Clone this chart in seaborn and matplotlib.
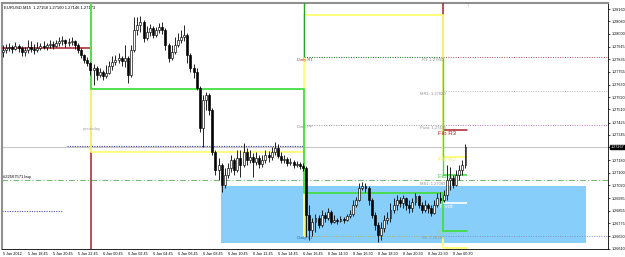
import numpy as np
import matplotlib
matplotlib.use("Agg")
import matplotlib.pyplot as plt
import matplotlib.transforms as mtransforms
import seaborn as sns

sns.set_style("white")
plt.rcParams['font.family'] = ['Liberation Sans', 'DejaVu Sans']

# ---------------- data ----------------
title_text = "EURUSD,M15  1.27158 1.27160 1.27146 1.27173"

first_open = 1.27882
closes = [1.27895, 1.27907, 1.27914, 1.27901, 1.27920, 1.27907, 1.27882, 1.27895, 1.27914, 1.27901,
          1.27895, 1.27907, 1.27920, 1.27914, 1.27927, 1.27933, 1.27920, 1.27940, 1.27953, 1.27959,
          1.27940, 1.27946, 1.27953, 1.27927, 1.27895, 1.27862, 1.27830, 1.27810, 1.27765, 1.27778,
          1.27733, 1.27752, 1.27726, 1.27746, 1.27791, 1.27817, 1.27830, 1.27843, 1.27823, 1.27843,
          1.27733, 1.27895, 1.28024, 1.28056, 1.28076, 1.27972, 1.28011, 1.28037, 1.27992, 1.28024,
          1.28043, 1.28024, 1.27927, 1.27843, 1.27882, 1.27927, 1.27959, 1.27979, 1.27992, 1.27862,
          1.27778, 1.27752, 1.27649, 1.27390, 1.27571, 1.27603, 1.27506, 1.27235, 1.27118, 1.27151,
          1.27021, 1.27086, 1.27131, 1.27183, 1.27118, 1.27196, 1.27151, 1.27235, 1.27183, 1.27202,
          1.27170, 1.27196, 1.27157, 1.27183, 1.27215, 1.27202, 1.27235, 1.27260, 1.27209, 1.27183,
          1.27189, 1.27163, 1.27170, 1.27151, 1.27157, 1.27144, 1.27131, 1.26827, 1.26730, 1.26782,
          1.26808, 1.26762, 1.26827, 1.26808, 1.26846, 1.26782, 1.26795, 1.26788, 1.26801, 1.26795,
          1.26820, 1.26833, 1.26892, 1.26924, 1.27002, 1.27014, 1.27002, 1.26924, 1.26827, 1.26762,
          1.26698, 1.26743, 1.26795, 1.26808, 1.26859, 1.26892, 1.26924, 1.26905, 1.26937, 1.26892,
          1.26872, 1.26911, 1.26950, 1.26892, 1.26859, 1.26892, 1.26872, 1.26840, 1.26892, 1.26937,
          1.26924, 1.26957, 1.27054, 1.27066, 1.27021, 1.27086, 1.27118, 1.27151, 1.27267]
highs = [1.27927, 1.27933, 1.27940, 1.27927, 1.27946, 1.27933, 1.27920, 1.27914, 1.27959, 1.27953,
         1.27933, 1.27946, 1.27940, 1.27953, 1.27940, 1.27959, 1.27953, 1.27959, 1.27979, 1.27985,
         1.27966, 1.27972, 1.27979, 1.27959, 1.27940, 1.27907, 1.27869, 1.27849, 1.27817, 1.27804,
         1.27791, 1.27778, 1.27765, 1.27797, 1.27823, 1.27856, 1.27862, 1.27875, 1.27856, 1.27927,
         1.27856, 1.27927, 1.28108, 1.28108, 1.28115, 1.28089, 1.28050, 1.28063, 1.28050, 1.28043,
         1.28069, 1.28076, 1.28037, 1.27940, 1.27927, 1.27979, 1.28005, 1.28024, 1.28056, 1.28005,
         1.27875, 1.27804, 1.27778, 1.27662, 1.27603, 1.27623, 1.27616, 1.27519, 1.27248, 1.27196,
         1.27163, 1.27131, 1.27163, 1.27215, 1.27196, 1.27248, 1.27248, 1.27293, 1.27260, 1.27248,
         1.27228, 1.27235, 1.27215, 1.27215, 1.27248, 1.27241, 1.27267, 1.27299, 1.27286, 1.27235,
         1.27215, 1.27202, 1.27196, 1.27183, 1.27176, 1.27170, 1.27163, 1.27144, 1.26892, 1.26808,
         1.26833, 1.26827, 1.26859, 1.26846, 1.26872, 1.26859, 1.26827, 1.26808, 1.26820, 1.26814,
         1.26833, 1.26859, 1.26924, 1.26944, 1.27034, 1.27040, 1.27034, 1.27014, 1.26937, 1.26846,
         1.26782, 1.26782, 1.26827, 1.26846, 1.26905, 1.26937, 1.26957, 1.26944, 1.26957, 1.26944,
         1.26924, 1.26937, 1.26969, 1.26957, 1.26911, 1.26924, 1.26905, 1.26892, 1.26924, 1.26969,
         1.26976, 1.26989, 1.27151, 1.27138, 1.27086, 1.27118, 1.27151, 1.27183, 1.27286]
lows = [1.27849, 1.27875, 1.27888, 1.27875, 1.27895, 1.27882, 1.27856, 1.27856, 1.27875, 1.27882,
        1.27869, 1.27882, 1.27895, 1.27901, 1.27895, 1.27907, 1.27901, 1.27914, 1.27920, 1.27927,
        1.27914, 1.27920, 1.27927, 1.27901, 1.27875, 1.27843, 1.27810, 1.27791, 1.27733, 1.27668,
        1.27700, 1.27720, 1.27700, 1.27713, 1.27739, 1.27765, 1.27797, 1.27810, 1.27791, 1.27785,
        1.27681, 1.27720, 1.27882, 1.27992, 1.28011, 1.27946, 1.27959, 1.27985, 1.27972, 1.27979,
        1.28005, 1.27998, 1.27895, 1.27817, 1.27830, 1.27869, 1.27914, 1.27940, 1.27953, 1.27810,
        1.27752, 1.27713, 1.27636, 1.27364, 1.27267, 1.27506, 1.27474, 1.27215, 1.27086, 1.27054,
        1.26976, 1.27002, 1.27066, 1.27105, 1.27086, 1.27105, 1.27073, 1.27138, 1.27151, 1.27163,
        1.27073, 1.27151, 1.27131, 1.27138, 1.27163, 1.27170, 1.27183, 1.27215, 1.27196, 1.27163,
        1.27163, 1.27144, 1.27151, 1.27131, 1.27138, 1.27125, 1.27112, 1.26685, 1.26665, 1.26691,
        1.26717, 1.26743, 1.26749, 1.26782, 1.26795, 1.26769, 1.26775, 1.26769, 1.26782, 1.26775,
        1.26788, 1.26808, 1.26820, 1.26879, 1.26918, 1.26989, 1.26976, 1.26892, 1.26808, 1.26730,
        1.26652, 1.26665, 1.26717, 1.26769, 1.26782, 1.26840, 1.26859, 1.26879, 1.26872, 1.26859,
        1.26840, 1.26846, 1.26892, 1.26872, 1.26840, 1.26846, 1.26840, 1.26820, 1.26833, 1.26879,
        1.26905, 1.26911, 1.26924, 1.26989, 1.27002, 1.27014, 1.27054, 1.27086, 1.27131]

x_tick_bars = [0, 8, 16, 24, 32, 40, 48, 56, 64, 72, 80, 88, 96, 104, 112, 120, 128, 136, 144]
x_tick_labels = ["5 Jan 2012", "5 Jan 18:45", "5 Jan 20:45", "5 Jan 22:45", "6 Jan 00:45",
                 "6 Jan 02:45", "6 Jan 04:45", "6 Jan 06:45", "6 Jan 08:45", "6 Jan 10:45",
                 "6 Jan 12:45", "6 Jan 14:45", "6 Jan 16:45", "8 Jan 14:30", "8 Jan 16:30",
                 "8 Jan 18:30", "8 Jan 20:30", "8 Jan 22:30", "9 Jan 00:30"]
y_ticks = [1.28160, 1.28080, 1.28000, 1.27915, 1.27835, 1.27755, 1.27670, 1.27590, 1.27510, 1.27425,
           1.27345, 1.27265, 1.27180, 1.27100, 1.27020, 1.26935, 1.26855, 1.26775, 1.26690, 1.26610]
bid_price = 1.27267

# session boundaries (bar units) and pivot-style step levels
session_edges = [-0.3, 28.3, 96.3, 140.8, 148.4]
green_levels = [1.28300, 1.27642, 1.26969, 1.26724]
yellow_levels = [1.28300, 1.27235, 1.28121, 1.27202]
red_levels_a = [1.27907, 1.26500]
red_levels_b = [1.28300, 1.27377]
yellow_low_levels = [1.27235, 1.26685, 1.26612]
r1_levels = [1.28300, 1.27849, 1.27086]

# horizontal level objects
daily_pp, daily_r1, daily_s1 = 1.27409, 1.27849, 1.26691
mr1_level = 1.27629
order_level = 1.27054
fib_pivot = 1.26905
blue_dot_a = 1.27273
blue_dot_b = 1.26853
zone_x = (69.8, 186.6)
zone_y = (1.26646, 1.27014)

# ---------------- figure ----------------
W, H = 625, 257
fig = plt.figure(figsize=(W / 100, H / 100), dpi=100)
fig.patch.set_facecolor("white")
ax = fig.add_axes([2 / W, 8 / H, 606 / W, 246 / H])
ax.set_facecolor("white")
ax.set_xlim(-0.3, 193.6)
ax.set_ylim(1.26607, 1.28199)
xr = ax.get_xlim()[1]

n = len(closes)
bars = np.arange(n)
opens = np.array([first_open] + closes[:-1])
c = np.array(closes)
hi = np.array(highs)
lo = np.array(lows)

# zone rectangle
ax.add_patch(plt.Rectangle((zone_x[0], zone_y[0]), zone_x[1] - zone_x[0], zone_y[1] - zone_y[0],
                           facecolor="#87CEFA", edgecolor="none", zorder=1))

RED, YEL, GRN = "#A8202A", "#FFFF70", "#44DD44"
e = session_edges

# red step pieces
ax.plot([e[0], e[1], e[1]], [red_levels_a[0], red_levels_a[0], red_levels_a[1]], color=RED, lw=1.1, zorder=3)
ax.plot([e[3], e[3], e[4]], [red_levels_b[0], red_levels_b[1], red_levels_b[1]], color=RED, lw=1.1, zorder=3)
# yellow steps
ax.plot(e, yellow_levels + [yellow_levels[-1]], drawstyle="steps-post", color=YEL, lw=1.3, zorder=3)
ax.vlines(e[2], yellow_low_levels[1], yellow_low_levels[0], color=YEL, lw=1.3, zorder=3)
ax.vlines(e[3], yellow_low_levels[2], yellow_low_levels[1], color=YEL, lw=1.3, zorder=3)
ax.hlines(yellow_low_levels[2], e[3], e[4], color=YEL, lw=1.3, zorder=3)
# R1 / Fib R1 line
ax.vlines(e[2], r1_levels[1], r1_levels[0], color="#2E9E2E", lw=1.0, zorder=3)
ax.vlines(e[3], r1_levels[2], r1_levels[1], color=GRN, lw=1.0, zorder=3)
ax.hlines(r1_levels[2], e[3], e[4], color=GRN, lw=1.1, zorder=3)
# main green step (seaborn)
sns.lineplot(x=session_edges, y=green_levels + [green_levels[-1]], drawstyle="steps-post",
             color=GRN, lw=1.3, ax=ax, zorder=4)

# horizontal objects
ax.hlines(bid_price, -0.3, xr, color="#C8C8C8", lw=0.8, zorder=2)
ax.hlines(order_level, -0.3, xr, color="#7CB87C", lw=0.8, ls=(0, (5, 2, 1, 2)), zorder=2)
ax.hlines(blue_dot_a, 20.5, 96.0, color="#3C3CA8", lw=0.8, ls=(0, (1, 1.2)), zorder=2)
ax.hlines(blue_dot_b, -0.3, 19.0, color="#5050B0", lw=0.8, ls=(0, (1, 1.2)), zorder=2)
ax.hlines(daily_pp, 96.3, 140.8, color="#999999", lw=0.7, ls=(0, (1, 1.5)), zorder=2)
ax.hlines(daily_pp, 140.8, xr, color="#B07AB0", lw=0.7, ls=(0, (1, 1.5)), zorder=2)
ax.hlines(daily_r1, 96.3, 140.8, color="#2E7D2E", lw=0.8, ls=(0, (1, 1.2)), zorder=2)
ax.hlines(daily_r1, 140.8, xr, color="#A05050", lw=0.7, ls=(0, (1, 1.5)), zorder=2)
ax.hlines(mr1_level, 140.8, xr, color="#BBBBBB", lw=0.7, ls=(0, (1, 1.5)), zorder=2)
ax.hlines(daily_s1, 96.3, 140.8, color="#A8B070", lw=0.7, ls=(0, (1, 1.5)), zorder=2)
ax.hlines(daily_s1, 140.8, xr, color="#8090C0", lw=0.7, ls=(0, (1, 1.5)), zorder=2)
ax.hlines(fib_pivot, 140.8, 148.4, color="white", lw=1.2, zorder=4)

# candles
up = c >= opens
body_lo = np.minimum(opens, c)
body_h = np.maximum(np.abs(c - opens), 0.00002)
ax.vlines(bars, lo, hi, color="black", lw=0.6, zorder=5)
ax.bar(bars[up], body_h[up], bottom=body_lo[up], width=0.62, color="white",
       edgecolor="black", linewidth=0.45, zorder=6)
ax.bar(bars[~up], body_h[~up], bottom=body_lo[~up], width=0.62, color="black",
       edgecolor="black", linewidth=0.45, zorder=6)

# texts
fs = 3.0
ax.text(0.3, 1.28170, title_text, fontsize=fs, color="black", va="center", ha="left")
ax.text(0.0, 1.27073, "#22567571 buy", fontsize=fs, color="black", va="center")
ax.text(25.6, 1.27383, "yesterday", fontsize=fs, color="#A0A0A0", va="center")
ax.text(94.1, 1.27830, "Daily R1", fontsize=fs, color="#C03030", va="center")
ax.text(94.1, 1.27396, "Daily PP", fontsize=fs, color="#909090", va="center")
ax.text(94.1, 1.26678, "Daily S1", fontsize=fs, color="#3060C0", va="center")
ax.text(134.0, 1.27830, "R1: 1.27865", fontsize=fs, color="#909090", va="center")
ax.text(133.4, 1.27610, "MR1: 1.27620", fontsize=fs, color="#909090", va="center")
ax.text(133.4, 1.27390, "Pivot: 1.27405", fontsize=fs, color="#909090", va="center")
ax.text(133.4, 1.27028, "MS1: 1.27083", fontsize=fs, color="#909090", va="center")
ax.text(134.0, 1.26678, "S1: 1.26745", fontsize=fs, color="#909090", va="center")
ax.text(139.2, 1.27357, "Fib R3", fontsize=4.4, color="#C02020", va="center")
ax.text(139.2, 1.27183, "Fib R2", fontsize=4.4, color="#EEEE60", va="center")
ax.text(139.2, 1.27073, "Fib R1", fontsize=4.4, color="#44CC44", va="center")
ax.text(139.6, 1.26885, "Pivot", fontsize=4.4, color="white", va="center")
ax.text(139.2, 1.26711, "Fib S1", fontsize=4.4, color="#88DD88", va="center")
ax.text(148.6, 1.28185, "\u22a4", fontsize=3.5, color="#808080", va="center", ha="center")

# axes styling
ax.set_xticks(x_tick_bars)
ax.set_xticklabels(x_tick_labels, fontsize=2.7, ha="left")
ax.yaxis.tick_right()
ax.set_yticks(y_ticks)
ax.set_yticklabels([f"{v:.5f}" for v in y_ticks], fontsize=2.7)
ax.tick_params(axis="both", length=1.5, width=0.5, pad=0.8, colors="black")
for s in ["right", "bottom"]:
    ax.spines[s].set_color("black")
    ax.spines[s].set_linewidth(0.6)
for s in ["left", "top"]:
    ax.spines[s].set_color("#909090")
    ax.spines[s].set_linewidth(1.5)

trans = mtransforms.blended_transform_factory(ax.transAxes, ax.transData)
ax.text(1.0045, bid_price, f"{bid_price:.5f}", transform=trans, fontsize=2.7, color="white",
        va="center", ha="left", bbox=dict(boxstyle="square,pad=0.1", fc="black", ec="black"),
        zorder=10)

fig.savefig("out.png", dpi=100, facecolor="white")
